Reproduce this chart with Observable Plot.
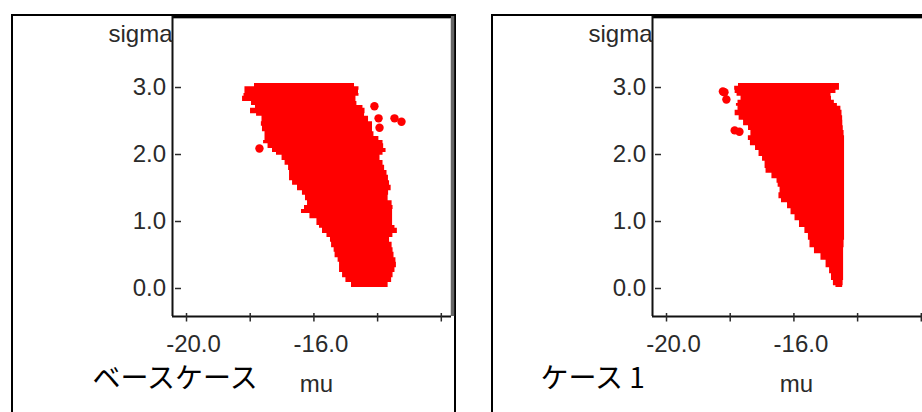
<!DOCTYPE html>
<html lang="ja">
<head>
<meta charset="utf-8">
<script src="https://cdn.jsdelivr.net/npm/d3@7"></script>
<script src="https://cdn.jsdelivr.net/npm/@observablehq/plot@0.6"></script>
<style>
html,body{margin:0;padding:0;background:#fff;overflow:hidden}
#page{position:relative;width:922px;height:412px;overflow:hidden}
.panel{position:absolute;top:0;width:461px;height:412px}
.outer{position:absolute;left:11px;top:14px;width:441px;height:420px;border:2px solid #000}
.panel svg{position:absolute;left:0;top:0;background:transparent}
</style>
</head>
<body>
<div id="page"></div>
<script>
const xTicks = [-20, -18, -16, -14, -12];
const xLabels = [-20, -16];
const yTicks = [0, 1, 2, 3];

const caseNames = ["ベースケース", "ケース 1"];

const sigmaBase = [3.06,3.01,2.96,2.91,2.87,2.79,2.73,2.69,2.61,2.57,2.49,2.42,2.34,2.27,2.21,2.16,2.09,2.03,1.99,1.91,1.84,1.76,1.69,1.61,1.54,1.46,1.39,1.31,1.24,1.18,1.12,1.04,0.94,0.90,0.82,0.76,0.69,0.61,0.54,0.46,0.39,0.31,0.24,0.16,0.09,0.015];
const muLowBase = [-17.58,-18.15,-18.18,-18.15,-18.24,-18.24,-17.68,-17.99,-17.99,-17.61,-17.65,-17.65,-17.58,-17.49,-17.58,-17.58,-17.30,-17.30,-17.05,-16.95,-16.86,-16.73,-16.80,-16.73,-16.61,-16.42,-16.30,-16.23,-16.17,-16.42,-16.36,-15.89,-15.92,-15.73,-15.73,-15.45,-15.51,-15.38,-15.35,-15.32,-15.16,-15.23,-15.16,-15.04,-14.95,-14.69];
const muHighBase = [-14.91,-14.54,-14.63,-14.57,-14.60,-14.76,-14.54,-14.38,-14.41,-14.41,-14.16,-14.16,-14.16,-14.07,-13.85,-13.81,-13.81,-13.66,-14.00,-13.85,-13.81,-13.75,-13.66,-13.66,-13.59,-13.56,-13.75,-13.59,-13.50,-13.53,-13.53,-13.53,-13.53,-13.38,-13.38,-13.66,-13.59,-13.50,-13.53,-13.44,-13.41,-13.41,-13.50,-13.53,-13.59,-13.75];
const strayMuBase = [-14.10,-13.97,-13.94,-13.47,-13.25,-17.71];
const straySigmaBase = [2.72,2.54,2.40,2.54,2.49,2.09];

const sigmaCase1 = [3.06,3.02,2.96,2.91,2.87,2.81,2.76,2.72,2.66,2.58,2.51,2.43,2.36,2.28,2.21,2.13,2.06,1.97,1.90,1.79,1.72,1.64,1.57,1.51,1.43,1.34,1.28,1.19,1.10,1.01,0.91,0.82,0.72,0.61,0.52,0.42,0.31,0.22,0.12,0.04,0.015];
const muLowCase1 = [-17.62,-17.86,-17.86,-17.83,-17.74,-17.58,-17.93,-17.68,-17.83,-17.86,-17.58,-17.58,-17.27,-17.43,-17.43,-17.30,-17.11,-17.08,-16.89,-16.92,-16.83,-16.55,-16.51,-16.48,-16.39,-16.55,-16.23,-16.17,-16.01,-15.92,-15.73,-15.58,-15.51,-15.48,-15.23,-15.07,-14.91,-14.85,-14.79,-14.73,-14.63];
const muHighCase1 = [-14.60,-14.54,-14.60,-14.76,-14.91,-14.73,-14.73,-14.54,-14.51,-14.47,-14.47,-14.46,-14.44,-14.41,-14.41,-14.41,-14.41,-14.41,-14.41,-14.41,-14.41,-14.41,-14.41,-14.41,-14.41,-14.41,-14.41,-14.41,-14.41,-14.41,-14.41,-14.41,-14.41,-14.44,-14.44,-14.44,-14.44,-14.44,-14.44,-14.47,-14.47];
const strayMuCase1 = [-18.23,-18.18,-18.12,-17.71,-17.86];
const straySigmaCase1 = [2.94,2.93,2.82,2.34,2.36];

const latin = "Liberation Sans";
const ink = "#2a2a2a";

function panel(left, caption, captionX, sigma, low, high, strayMu, straySigma) {
  const host = document.createElement("div");
  host.className = "panel";
  host.style.left = left + "px";
  const outer = document.createElement("div");
  outer.className = "outer";
  host.appendChild(outer);
  const chart = Plot.plot({
    width: 461,
    height: 412,
    marginLeft: 172,
    marginRight: 10,
    marginTop: 16,
    marginBottom: 96,
    x: {domain: [-20.44, -11.68]},
    y: {domain: [-0.418, 4.06]},
    style: {background: "transparent", fontFamily: latin},
    marks: [
      Plot.areaX(sigma, {y: d => d, x1: (d, i) => low[i], x2: (d, i) => high[i], fill: "#ff0000", curve: "step"}),
      Plot.dot(strayMu, {x: d => d, y: (d, i) => straySigma[i], r: 4.2, fill: "#ff0000"}),
      Plot.ruleX([-11.68], {stroke: "#666", strokeWidth: 3.5, dx: 1}),
      Plot.ruleY([4.06], {stroke: "#aaa", strokeWidth: 1, dy: 2}),
      Plot.ruleY([4.06], {stroke: "#000", strokeWidth: 3}),
      Plot.ruleX([-20.44], {stroke: "#111", strokeWidth: 2}),
      Plot.ruleY([-0.418], {stroke: "#111", strokeWidth: 2}),
      Plot.axisX({ticks: xTicks, tickSize: 8.5, insetBottom: 3, strokeWidth: 1.5, stroke: ink, text: null, label: null}),
      Plot.axisX({ticks: xLabels, tickSize: 0, tickPadding: 18, dx: 7, fontSize: 24, fill: ink, tickFormat: d => d.toFixed(1), label: null}),
      Plot.axisY({ticks: yTicks, tickSize: -6, insetLeft: 3, tickPadding: 15.5, strokeWidth: 1.5, stroke: ink, fontSize: 24, fill: ink, tickFormat: d => d.toFixed(1), label: null}),
      Plot.text(["sigma"], {frameAnchor: "top-left", textAnchor: "end", lineAnchor: "middle", dy: 18, fontSize: 24, fill: ink}),
      Plot.text(["mu"], {frameAnchor: "bottom-left", textAnchor: "middle", lineAnchor: "middle", dx: 144, dy: 68, fontSize: 24, fill: ink}),
      Plot.text([caption], {frameAnchor: "bottom-left", textAnchor: "start", lineAnchor: "middle", dx: captionX - 172, dy: 62.5, fontSize: 28, fill: "#000", fontFamily: "Noto Sans CJK JP"})
    ]
  });
  host.appendChild(chart);
  document.getElementById("page").appendChild(host);
}

panel(0, caseNames[0], 92, sigmaBase, muLowBase, muHighBase, strayMuBase, straySigmaBase);
panel(480, caseNames[1], 60, sigmaCase1, muLowCase1, muHighCase1, strayMuCase1, straySigmaCase1);
</script>
</body>
</html>
